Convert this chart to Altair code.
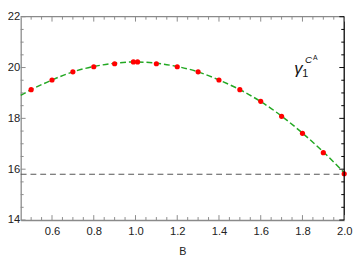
import altair as alt
import pandas as pd

# data
B_pts = [0.5, 0.6, 0.7, 0.8, 0.9, 0.99, 1.01, 1.1, 1.2, 1.3, 1.4, 1.5, 1.6, 1.7, 1.8, 1.9, 2.0]
g_pts = [19.13, 19.51, 19.83, 20.03, 20.15, 20.22, 20.22, 20.15, 20.03, 19.83, 19.51, 19.13,
         18.67, 18.08, 17.41, 16.65, 15.82]

B_curve = [0.45, 0.5, 0.6, 0.7, 0.8, 0.9, 1.0, 1.1, 1.2, 1.3, 1.4, 1.5, 1.6, 1.7, 1.8, 1.9, 2.0]
g_curve = [18.90, 19.13, 19.51, 19.83, 20.04, 20.17, 20.22, 20.17, 20.04, 19.83, 19.51, 19.13,
           18.66, 18.09, 17.42, 16.68, 15.86]

ref_level = [15.8]

x_major = [0.6, 0.8, 1.0, 1.2, 1.4, 1.6, 1.8, 2.0]
x_minor = [0.5, 0.55, 0.65, 0.7, 0.75, 0.85, 0.9, 0.95, 1.05, 1.1, 1.15, 1.25, 1.3, 1.35,
           1.45, 1.5, 1.55, 1.65, 1.7, 1.75, 1.85, 1.9, 1.95]
y_major = [14, 16, 18, 20, 22]
y_minor = [14.5, 15, 15.5, 16.5, 17, 17.5, 18.5, 19, 19.5, 20.5, 21, 21.5]

W, H = 331, 208
FONT = "Liberation Sans"
AX = "#8a8a8a"

xs = alt.Scale(domain=[0.45, 2.0], nice=False, zero=False)
ys = alt.Scale(domain=[14, 22], nice=False, zero=False)

pts = pd.DataFrame({"B": B_pts, "g": g_pts})
crv = pd.DataFrame({"B": B_curve, "g": g_curve})
lvl = pd.DataFrame({"g": ref_level})

xaxis = alt.Axis(values=x_major, format=".1f", ticks=False, grid=False, labelFontSize=11.5,
                 labelFont=FONT, labelColor="#222", labelPadding=6, title="B",
                 titleFont=FONT, titleFontSize=11, titleFontWeight="normal", titleColor="#222",
                 titlePadding=9, domainColor=AX, domainWidth=1.3, labelFlush=False)
yaxis = alt.Axis(values=y_major, format="d", ticks=False, grid=False, labelFontSize=11.5,
                 labelFont=FONT, labelColor="#222", labelPadding=1, title=None,
                 domainColor=AX, domainWidth=1.3)

curve = alt.Chart(crv).mark_line(color="#22a822", strokeDash=[6, 3], strokeWidth=1.5,
                                 interpolate="natural").encode(
    x=alt.X("B:Q", scale=xs, axis=xaxis),
    y=alt.Y("g:Q", scale=ys, axis=yaxis),
)

hline = alt.Chart(lvl).mark_rule(color="#555", strokeDash=[6, 4], strokeWidth=1.2).encode(
    y=alt.Y("g:Q", scale=ys), x=alt.value(0), x2=alt.value(W))

dots = alt.Chart(pts).mark_circle(color="#ff0000", size=28, opacity=1).encode(
    x=alt.X("B:Q", scale=xs), y=alt.Y("g:Q", scale=ys))

xmaj = pd.DataFrame({"v": x_major})
xmin = pd.DataFrame({"v": x_minor})
ymaj = pd.DataFrame({"v": y_major})
ymin = pd.DataFrame({"v": y_minor})

def xticks(df, y0, y1, color):
    return alt.Chart(df).mark_rule(color=color, strokeWidth=1).encode(
        x=alt.X("v:Q", scale=xs), y=alt.value(y0), y2=alt.value(y1))

def yticks(df, x0, x1, color):
    return alt.Chart(df).mark_rule(color=color, strokeWidth=1).encode(
        y=alt.Y("v:Q", scale=ys), x=alt.value(x0), x2=alt.value(x1))

ticks = [
    xticks(xmaj, H, H - 5, AX), xticks(xmin, H, H - 3, AX),
    xticks(xmaj, 0, 5, AX), xticks(xmin, 0, 3, AX),
    yticks(ymaj, 0, 5, AX), yticks(ymin, 0, 3, AX),
    yticks(ymaj, W, W - 5, "#000"), yticks(ymin, W, W - 3, "#000"),
]

top = alt.Chart(lvl).mark_rule(color=AX, strokeWidth=1.3).encode(
    x=alt.value(0), x2=alt.value(W), y=alt.value(0))
right = alt.Chart(lvl).mark_rule(color="#000", strokeWidth=1.3).encode(
    x=alt.value(W), y=alt.value(0), y2=alt.value(H))

def txt(s, x, y, size, italic=False):
    return alt.Chart(lvl).mark_text(text=s, font=FONT, fontSize=size, color="#111",
                                    fontStyle="italic" if italic else "normal",
                                    align="left", baseline="alphabetic").encode(
        x=alt.value(x), y=alt.value(y))

label = [txt("γ", 280, 59, 17, True), txt("1", 288, 62, 11),
         txt("C", 291, 47, 10, True), txt("A", 299, 44.5, 7)]

chart = alt.layer(hline, curve, dots, top, right, *ticks, *label).properties(
    width=W, height=H, padding={"left": 13, "top": 6, "right": 9, "bottom": 38},
    autosize=alt.AutoSizeParams(type="none"),
).configure_view(stroke=None)

chart.save("out.html", embed_options={"renderer": "svg", "actions": False})
